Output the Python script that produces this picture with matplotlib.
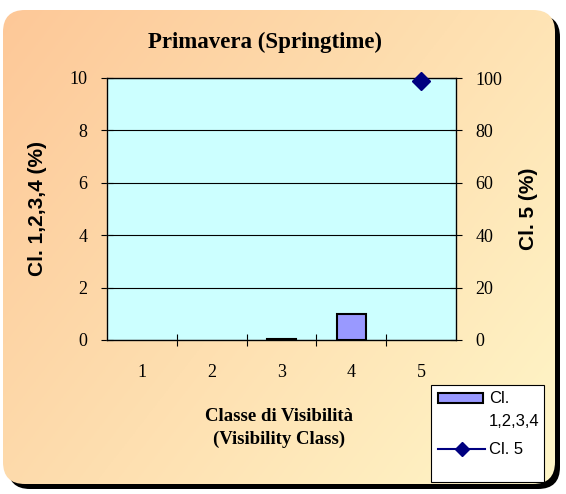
import numpy as np
import matplotlib.pyplot as plt
from matplotlib.patches import FancyBboxPatch, Rectangle
from matplotlib.lines import Line2D

classes = [1, 2, 3, 4, 5]
cl1234 = [0, 0, 0.05, 1.0, 0]
cl5 = [np.nan, np.nan, np.nan, np.nan, 99]

W, H = 566, 494
fig = plt.figure(figsize=(5.66, 4.94), dpi=100)

# background: rounded frame, gradient, shadow
bg = fig.add_axes([0, 0, 1, 1])
bg.set_xlim(0, W)
bg.set_ylim(H, 0)
bg.axis('off')
shadow = FancyBboxPatch((8, 15), 552, 474, boxstyle="round,pad=0,rounding_size=22",
                        fc='black', ec='none')
bg.add_patch(shadow)
frame = FancyBboxPatch((3, 10), 552, 474, boxstyle="round,pad=0,rounding_size=22",
                       fc='none', ec='none')
bg.add_patch(frame)
xx, yy = np.meshgrid(np.linspace(0, 1, 200), np.linspace(0, 1, 200))
t = xx * 0.6 + yy * 0.4
c0 = np.array([253, 200, 152]) / 255
c1 = np.array([255, 246, 200]) / 255
img = c0[None, None, :] * (1 - t[..., None]) + c1[None, None, :] * t[..., None]
im = bg.imshow(img, extent=(3, 555, 484, 10), zorder=1)
im.set_clip_path(frame)

# legend drawn by hand (Excel style: key aligned with first label line)
bg.add_patch(Rectangle((431, 385), 113, 97, fc='white', ec='black', lw=0.8, zorder=2))
bg.add_patch(Rectangle((438, 393), 45, 10, fc='#9999FF', ec='black', lw=1.5, zorder=3))
bg.add_line(Line2D([438, 485], [449, 449], color='#000080', lw=1.5, zorder=3))
bg.add_line(Line2D([461.5], [449], color='#000080', marker='D', markersize=7, zorder=4))
bg.text(489, 398, 'Cl.', ha='left', va='center', fontsize=12, zorder=4,
        fontfamily='Liberation Sans')
bg.text(489, 421, '1,2,3,4', ha='left', va='center', fontsize=12, zorder=4,
        fontfamily='Liberation Sans')
bg.text(489, 449, 'Cl. 5', ha='left', va='center', fontsize=12, zorder=4,
        fontfamily='Liberation Sans')

ax = fig.add_axes([107 / W, 1 - 340 / H, 349 / W, 262 / H])
ax.set_facecolor('#CCFFFF')
# zero bars are not drawn in the original
xs = [c for c, v in zip(classes, cl1234) if v > 0]
vs = [v for v in cl1234 if v > 0]
ax.bar(xs, vs, width=0.42, color='#9999FF', edgecolor='black', linewidth=1.5, zorder=3)
ax.set_xlim(0.5, 5.5)
ax.set_ylim(0, 10)
ax.set_yticks([0, 2, 4, 6, 8, 10])
ax.set_xticks([1.5, 2.5, 3.5, 4.5])
ax.set_xticklabels([])
ax.set_xticks(classes, minor=True)
ax.set_xticklabels([str(c) for c in classes], minor=True)
ax.tick_params(axis='x', which='minor', length=0, pad=17)
ax.tick_params(axis='x', which='major', direction='inout', length=8)
ax.tick_params(axis='y', direction='inout', length=8, pad=10)
ax.grid(axis='y', color='black', linewidth=0.8, zorder=0)
for lab in ax.get_yticklabels() + ax.get_xticklabels(minor=True):
    lab.set_fontfamily('Liberation Serif')
    lab.set_fontsize(13)
for s in ax.spines.values():
    s.set_color('#555555')
    s.set_linewidth(1)
ax.set_ylabel('Cl. 1,2,3,4 (%)', fontsize=15, fontweight='bold',
              fontfamily='Liberation Sans', labelpad=16)

ax2 = ax.twinx()
ax2.plot(classes, cl5, color='#000080', marker='D', markersize=9, zorder=4, clip_on=False)
ax2.set_ylim(0, 100)
ax2.set_yticks([0, 20, 40, 60, 80, 100])
ax2.tick_params(axis='y', direction='inout', length=8, pad=10)
for lab in ax2.get_yticklabels():
    lab.set_fontfamily('Liberation Serif')
    lab.set_fontsize(13)
ax2.set_ylabel('Cl. 5 (%)', fontsize=15, fontweight='bold',
               fontfamily='Liberation Sans', labelpad=12)

fig.text(265 / W, 1 - 42 / H, 'Primavera (Springtime)', ha='center', va='center',
         fontsize=16.5, fontweight='bold', fontfamily='Liberation Serif')
fig.text(279 / W, 1 - 428 / H, 'Classe di Visibilità\n(Visibility Class)', ha='center',
         va='center', fontsize=13.5, fontweight='bold', fontfamily='Liberation Serif',
         linespacing=1.45)

fig.savefig('out.png', dpi=100)
